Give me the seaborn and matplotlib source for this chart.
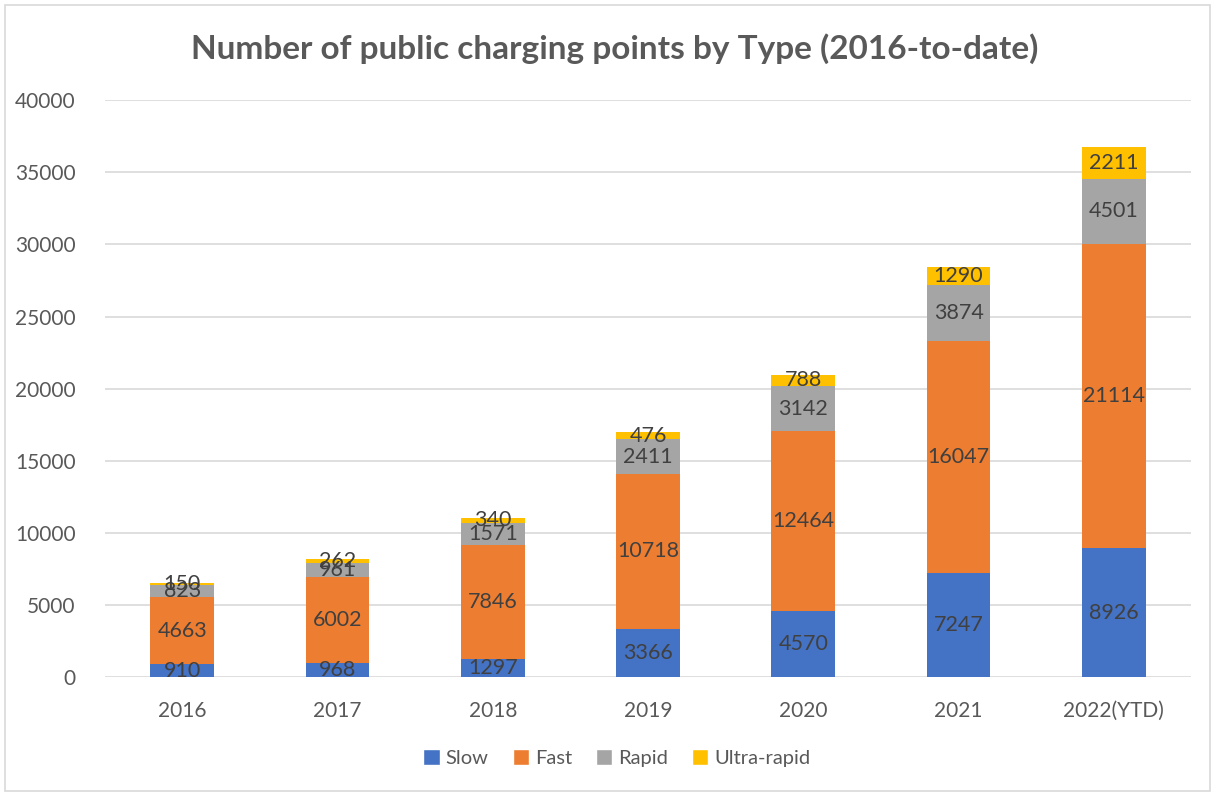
import matplotlib
matplotlib.use('Agg')
import matplotlib.pyplot as plt
import seaborn as sns
import pandas as pd
import numpy as np
from matplotlib.patches import Patch

years = ['2016', '2017', '2018', '2019', '2020', '2021', '2022(YTD)']
slow = [910, 968, 1297, 3366, 4570, 7247, 8926]
fast = [4663, 6002, 7846, 10718, 12464, 16047, 21114]
rapid = [823, 961, 1571, 2411, 3142, 3874, 4501]
ultra = [150, 262, 340, 476, 788, 1290, 2211]

types = ['Slow', 'Fast', 'Rapid', 'Ultra-rapid']
colors = ['#4472C4', '#ED7D31', '#A5A5A5', '#FFC000']

sns.set_style('white')
plt.rcParams['font.family'] = ['Lato', 'DejaVu Sans']

df = pd.DataFrame({'Year': years, 'Slow': slow, 'Fast': fast,
                   'Rapid': rapid, 'Ultra-rapid': ultra})
cum = df[types].cumsum(axis=1)

fig = plt.figure(figsize=(12.17, 7.94), dpi=100)
ax = fig.add_axes([0.086, 0.147, 0.893, 0.727])

# stacked look: draw cumulative totals from the top series down
for t, c in reversed(list(zip(types, colors))):
    sns.barplot(x=df['Year'], y=cum[t], color=c, width=0.41,
                saturation=1, linewidth=0, ax=ax, zorder=3)

# segment labels
for i in range(len(years)):
    base = 0
    for t in types:
        v = df[t][i]
        ax.text(i, base + v / 2, str(v), ha='center', va='center',
                fontsize=15.5, color='#404040', zorder=5)
        base += v

ax.set_ylim(0, 40000)
ax.set_yticks(range(0, 40001, 5000))
ax.set_xlim(-0.5, len(years) - 0.5)
ax.yaxis.grid(True, color='#D9D9D9', linewidth=1.2, zorder=0)
ax.set_axisbelow(True)
for s in ['top', 'right', 'left', 'bottom']:
    ax.spines[s].set_visible(False)
ax.tick_params(axis='both', labelsize=15, labelcolor='#595959', length=0)
ax.tick_params(axis='x', pad=17)
ax.tick_params(axis='y', pad=21)
ax.set_xlabel('')
ax.set_ylabel('')

fig.suptitle('Number of public charging points by Type (2016-to-date)',
             x=0.505, y=0.958, fontsize=24, fontweight='bold', color='#595959')

handles = [Patch(facecolor=c, label=t) for t, c in zip(types, colors)]
fig.legend(handles=handles, loc='center', bbox_to_anchor=(0.507, 0.045),
           ncol=4, frameon=False, fontsize=14.5, labelcolor='#595959',
           handlelength=0.8, handleheight=0.8, handletextpad=0.3,
           columnspacing=1.2)

fig.patches.append(plt.Rectangle((0.004, 0.004), 0.99, 0.99,
                                 transform=fig.transFigure, fill=False,
                                 edgecolor='#D9D9D9', linewidth=1.2))

fig.savefig('out.png', dpi=100)
